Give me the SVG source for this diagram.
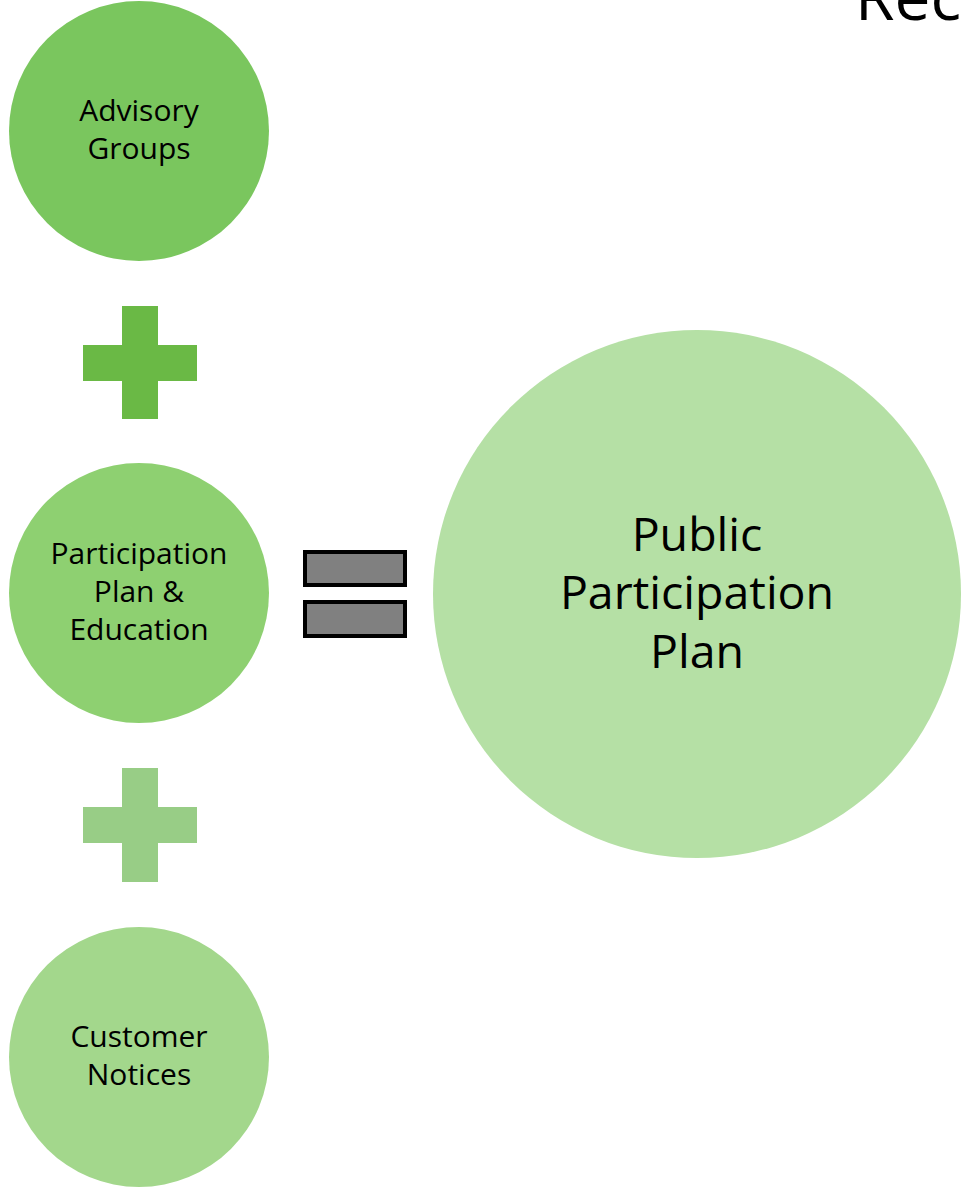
<svg xmlns="http://www.w3.org/2000/svg" width="961" height="1189" viewBox="0 0 961 1189">
<style>
.lbl{font-family:"Open Sans","Liberation Sans",sans-serif;fill:#000;text-anchor:middle}
.sm{font-size:30px}
.lg{font-size:46.5px}
.eq{fill:#808080;stroke:#000;stroke-width:4}
</style>
<rect width="961" height="1189" fill="#fff"/>
<text x="855" y="20" font-family="Open Sans, Liberation Sans, sans-serif" font-size="64" fill="#000">Rec</text>
<g id="node-advisory">
<circle cx="139" cy="131" r="130" fill="#7ac65e"/>
<text class="lbl sm" x="139" y="121">Advisory</text>
<text class="lbl sm" x="139" y="159">Groups</text>
</g>
<g id="plus-1">
<rect x="122" y="306" width="36" height="113" fill="#6ab945"/>
<rect x="83" y="345" width="114" height="36" fill="#6ab945"/>
</g>
<g id="node-participation">
<circle cx="139" cy="593" r="130" fill="#8ed071"/>
<text class="lbl sm" x="139" y="564">Participation</text>
<text class="lbl sm" x="139" y="602">Plan &amp;</text>
<text class="lbl sm" x="139" y="640">Education</text>
</g>
<g id="plus-2">
<rect x="122" y="768" width="36" height="114" fill="#98cd86"/>
<rect x="83" y="807" width="114" height="36" fill="#98cd86"/>
</g>
<g id="node-customer">
<circle cx="139" cy="1057" r="130" fill="#a3d78c"/>
<text class="lbl sm" x="139" y="1047">Customer</text>
<text class="lbl sm" x="139" y="1085">Notices</text>
</g>
<g id="equals">
<rect class="eq" x="305" y="552" width="100" height="33"/>
<rect class="eq" x="305" y="602" width="100" height="34"/>
</g>
<g id="node-public">
<circle cx="697" cy="594" r="264" fill="#b5e0a5"/>
<text class="lbl lg" x="697" y="551">Public</text>
<text class="lbl lg" x="697" y="609">Participation</text>
<text class="lbl lg" x="697" y="668">Plan</text>
</g>
<g id="connectors"/>
</svg>
